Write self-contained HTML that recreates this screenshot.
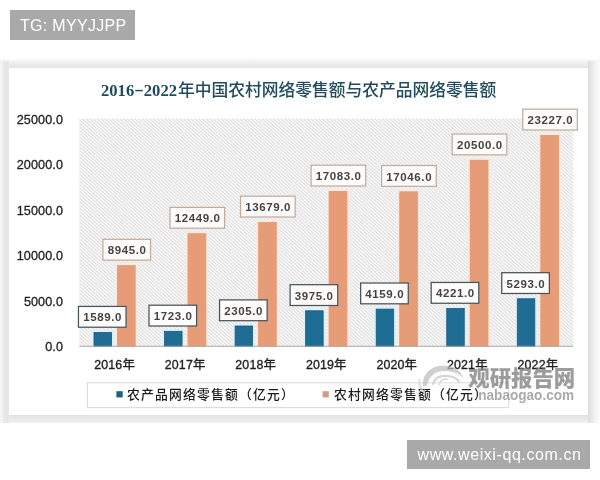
<!DOCTYPE html>
<html><head><meta charset="utf-8">
<style>
html,body{margin:0;padding:0;}
body{width:600px;height:480px;background:#fff;position:relative;overflow:hidden;font-family:"Liberation Sans","Noto Sans CJK SC",sans-serif;}
.tg{position:absolute;left:10px;top:10px;width:125px;height:30px;background:#a9a9a9;color:#fff;font-size:16px;line-height:32.3px;letter-spacing:0.3px;box-sizing:border-box;padding-left:10px;white-space:nowrap;}
.url{position:absolute;left:407px;top:440px;width:183px;height:29px;background:#a9a9a9;color:#fff;font-size:16px;line-height:29px;letter-spacing:0.58px;box-sizing:border-box;padding-left:10.5px;white-space:nowrap;}
.card{position:absolute;left:9px;top:68px;width:579px;height:346.8px;background:#fff;}
.bt{position:absolute;left:0;top:58.5px;width:600px;height:9.5px;background:linear-gradient(#f9f9f9,#f0f0f0 40%,#e4e4e4 90%,#ececec);}
.bl{position:absolute;left:0;top:61px;width:9px;height:362px;background:linear-gradient(to right,#f5f5f5,#f1f1f1 3px,#e8e8e8 3.5px,#e6e6e6 7.3px,#dedede 7.8px,#efefef 9px);}
.br{position:absolute;left:588px;top:61px;width:12px;height:362px;background:linear-gradient(to right,#dcdcdc,#e3e3e3 2px,#ebebeb 5px,#f5f5f5 8px,#fbfbfb);}
.bb{position:absolute;left:0;top:414.8px;width:600px;height:8.2px;background:linear-gradient(#e0e0e0,#e6e6e6 2px,#ececec 6px,#f3f3f3);}
svg{position:absolute;left:0;top:0;}
</style></head>
<body>
<div class="bt"></div><div class="bb"></div><div class="bl"></div><div class="br"></div>
<div class="card"></div>
<div class="tg">TG: MYYJJPP</div>
<div class="url">www.weixi-qq.com.cn</div>
<svg width="600" height="480" viewBox="0 0 600 480">
<defs>
<pattern id="h" patternUnits="userSpaceOnUse" width="3.75" height="3.4">
<rect width="3.75" height="3.4" fill="#fcfcfc"/>
<path d="M-3.75,-3.4 L7.5,6.8 M0,-3.4 L7.5,3.4 M-3.75,0 L3.75,6.8" stroke="#d8d8d8" stroke-width="1.05"/>
</pattern>
</defs>
<rect x="79.33" y="118.6" width="493.85" height="227.4" fill="url(#h)"/>
<text x="101" y="96.1" font-family="Liberation Serif, serif" font-weight="bold" font-size="16.6" fill="#1f4b5c">2016<tspan textLength="9.6" lengthAdjust="spacingAndGlyphs" dy="-1.6">-</tspan><tspan dy="1.6">2022</tspan></text>
<text x="178" y="96.4" font-family="Noto Sans CJK SC, sans-serif" font-size="16.75" font-weight="500" fill="#1f4b5c">年中国农村网络零售额与农产品网络零售额</text>
<g font-family="Liberation Sans, sans-serif" font-size="12.6" fill="#1e1e1e" stroke="#1e1e1e" stroke-width="0.3" letter-spacing="0.1" text-anchor="end">
<text x="63" y="123.8">25000.0</text>
<text x="63" y="169.3">20000.0</text>
<text x="63" y="214.8">15000.0</text>
<text x="63" y="260.3">10000.0</text>
<text x="63" y="305.8">5000.0</text>
<text x="63" y="351.2">0.0</text>
</g>
<rect x="92.00" y="330.52" width="21.50" height="16.08" fill="#dcf1f9"/>
<rect x="94.00" y="332.52" width="17.50" height="14.08" fill="#1f6c94" stroke="#1a5a7c" stroke-width="0.8"/>
<rect x="115.41" y="263.51" width="21.90" height="83.09" fill="#fceae0"/>
<rect x="117.00" y="265.11" width="18.70" height="81.49" fill="#e79c78"/>
<rect x="162.55" y="329.30" width="21.50" height="17.30" fill="#dcf1f9"/>
<rect x="164.55" y="331.30" width="17.50" height="15.30" fill="#1f6c94" stroke="#1a5a7c" stroke-width="0.8"/>
<rect x="185.95" y="231.59" width="21.90" height="115.01" fill="#fceae0"/>
<rect x="187.55" y="233.19" width="18.70" height="113.41" fill="#e79c78"/>
<rect x="233.10" y="324.00" width="21.50" height="22.60" fill="#dcf1f9"/>
<rect x="235.10" y="326.00" width="17.50" height="20.60" fill="#1f6c94" stroke="#1a5a7c" stroke-width="0.8"/>
<rect x="256.50" y="220.38" width="21.90" height="126.22" fill="#fceae0"/>
<rect x="258.10" y="221.98" width="18.70" height="124.62" fill="#e79c78"/>
<rect x="303.65" y="308.79" width="21.50" height="37.81" fill="#dcf1f9"/>
<rect x="305.65" y="310.79" width="17.50" height="35.81" fill="#1f6c94" stroke="#1a5a7c" stroke-width="0.8"/>
<rect x="327.05" y="189.37" width="21.90" height="157.23" fill="#fceae0"/>
<rect x="328.65" y="190.97" width="18.70" height="155.63" fill="#e79c78"/>
<rect x="374.20" y="307.11" width="21.50" height="39.49" fill="#dcf1f9"/>
<rect x="376.20" y="309.11" width="17.50" height="37.49" fill="#1f6c94" stroke="#1a5a7c" stroke-width="0.8"/>
<rect x="397.60" y="189.71" width="21.90" height="156.89" fill="#fceae0"/>
<rect x="399.20" y="191.31" width="18.70" height="155.29" fill="#e79c78"/>
<rect x="444.75" y="306.55" width="21.50" height="40.05" fill="#dcf1f9"/>
<rect x="446.75" y="308.55" width="17.50" height="38.05" fill="#1f6c94" stroke="#1a5a7c" stroke-width="0.8"/>
<rect x="468.15" y="158.25" width="21.90" height="188.36" fill="#fceae0"/>
<rect x="469.75" y="159.84" width="18.70" height="186.76" fill="#e79c78"/>
<rect x="515.30" y="296.78" width="21.50" height="49.82" fill="#dcf1f9"/>
<rect x="517.30" y="298.78" width="17.50" height="47.82" fill="#1f6c94" stroke="#1a5a7c" stroke-width="0.8"/>
<rect x="538.70" y="133.40" width="21.90" height="213.20" fill="#fceae0"/>
<rect x="540.30" y="135.00" width="18.70" height="211.60" fill="#e79c78"/>
<line x1="79.33" y1="346.3" x2="573.18" y2="346.3" stroke="#aaa8a4" stroke-width="1"/>
<g font-family="Liberation Sans, sans-serif" font-size="11.5" font-weight="bold" fill="#444" letter-spacing="0.6">
<rect x="78.45" y="306.42" width="47.60" height="20.8" fill="#fdfcfa" stroke="#46545c" stroke-width="1.25"/>
<text x="102.55" y="321.42" text-anchor="middle">1589.0</text>
<rect x="102.95" y="239.31" width="47.60" height="20.8" fill="#fdfcfa" stroke="#c4ac9c" stroke-width="1.25"/>
<text x="127.05" y="254.31" text-anchor="middle">8945.0</text>
<rect x="149.00" y="305.20" width="47.60" height="20.8" fill="#fdfcfa" stroke="#46545c" stroke-width="1.25"/>
<text x="173.10" y="320.20" text-anchor="middle">1723.0</text>
<rect x="170.00" y="207.39" width="54.60" height="20.8" fill="#fdfcfa" stroke="#c4ac9c" stroke-width="1.25"/>
<text x="197.60" y="222.39" text-anchor="middle">12449.0</text>
<rect x="219.55" y="299.90" width="47.60" height="20.8" fill="#fdfcfa" stroke="#46545c" stroke-width="1.25"/>
<text x="243.66" y="314.90" text-anchor="middle">2305.0</text>
<rect x="240.55" y="196.18" width="54.60" height="20.8" fill="#fdfcfa" stroke="#c4ac9c" stroke-width="1.25"/>
<text x="268.15" y="211.18" text-anchor="middle">13679.0</text>
<rect x="290.11" y="284.69" width="47.60" height="20.8" fill="#fdfcfa" stroke="#46545c" stroke-width="1.25"/>
<text x="314.21" y="299.69" text-anchor="middle">3975.0</text>
<rect x="311.10" y="165.17" width="54.60" height="20.8" fill="#fdfcfa" stroke="#c4ac9c" stroke-width="1.25"/>
<text x="338.70" y="180.17" text-anchor="middle">17083.0</text>
<rect x="360.65" y="283.01" width="47.60" height="20.8" fill="#fdfcfa" stroke="#46545c" stroke-width="1.25"/>
<text x="384.75" y="298.01" text-anchor="middle">4159.0</text>
<rect x="381.65" y="165.51" width="54.60" height="20.8" fill="#fdfcfa" stroke="#c4ac9c" stroke-width="1.25"/>
<text x="409.25" y="180.51" text-anchor="middle">17046.0</text>
<rect x="431.20" y="282.45" width="47.60" height="20.8" fill="#fdfcfa" stroke="#46545c" stroke-width="1.25"/>
<text x="455.31" y="297.45" text-anchor="middle">4221.0</text>
<rect x="452.20" y="134.04" width="54.60" height="20.8" fill="#fdfcfa" stroke="#c4ac9c" stroke-width="1.25"/>
<text x="479.80" y="149.04" text-anchor="middle">20500.0</text>
<rect x="501.75" y="272.68" width="47.60" height="20.8" fill="#fdfcfa" stroke="#46545c" stroke-width="1.25"/>
<text x="525.85" y="287.68" text-anchor="middle">5293.0</text>
<rect x="522.75" y="109.20" width="54.60" height="20.8" fill="#fdfcfa" stroke="#c4ac9c" stroke-width="1.25"/>
<text x="550.35" y="124.20" text-anchor="middle">23227.0</text>
</g>
<g font-family="Liberation Sans, Noto Sans CJK SC, sans-serif" font-size="12.4" fill="#1e1e1e" stroke="#1e1e1e" stroke-width="0.35" letter-spacing="0.15" text-anchor="middle">
<text x="114.60" y="369">2016年</text>
<text x="185.15" y="369">2017年</text>
<text x="255.70" y="369">2018年</text>
<text x="326.25" y="369">2019年</text>
<text x="396.80" y="369">2020年</text>
<text x="467.35" y="369">2021年</text>
<text x="537.90" y="369">2022年</text>
</g>
<rect x="87.5" y="382.8" width="421.3" height="24.8" fill="none" stroke="#dadada" stroke-width="1"/>
<rect x="116.4" y="391.2" width="6.3" height="6.2" fill="#1f5f80"/>
<rect x="322.6" y="391.2" width="6.2" height="6.2" fill="#d49a88"/>
<g font-family="Liberation Sans, Noto Sans CJK SC, sans-serif" font-size="12.8" font-weight="500" letter-spacing="1.2" fill="#1a1a1a">
<text x="127" y="398.9">农产品网络零售额（亿元）</text>
<text x="334" y="398.9">农村网络零售额（亿元）</text>
</g>
<g opacity="0.72">
<path d="M423,386 C422,373 432,365.5 444,365.8 C454,366 461,370.5 463.5,378.5 C459.5,373.5 452,370.8 444,371 C435,371.3 428.5,376.5 427,386 Z" fill="#bfbfbf"/>
<g fill="none" stroke-linecap="round">
<path d="M433,384 C434.5,378.5 439.5,375.8 445,375.8 C451,375.8 456.5,378 459,381.5" stroke="#c6c6c6" stroke-width="2.2"/>
<path d="M447.5,379.2 C442.5,378.8 439.5,381 439.5,385" stroke="#cbcbcb" stroke-width="1.6"/>
<path d="M419.5,380 C418.5,385 420,389 424,392" stroke="#d8d8d8" stroke-width="2.4"/>
</g>
<text x="468.3" y="385.5" font-family="Noto Sans CJK SC, sans-serif" font-weight="900" font-size="21.4" fill="#777777">观研报告网</text>
<text x="0" y="0" transform="translate(458.6,399.8) scale(1,1.1)" font-family="Liberation Sans, sans-serif" font-weight="bold" font-size="13.6" fill="#8a8a8a"><tspan fill-opacity="0.1">chi</tspan>nabaogao.com</text>
</g>
</svg>
</body></html>
